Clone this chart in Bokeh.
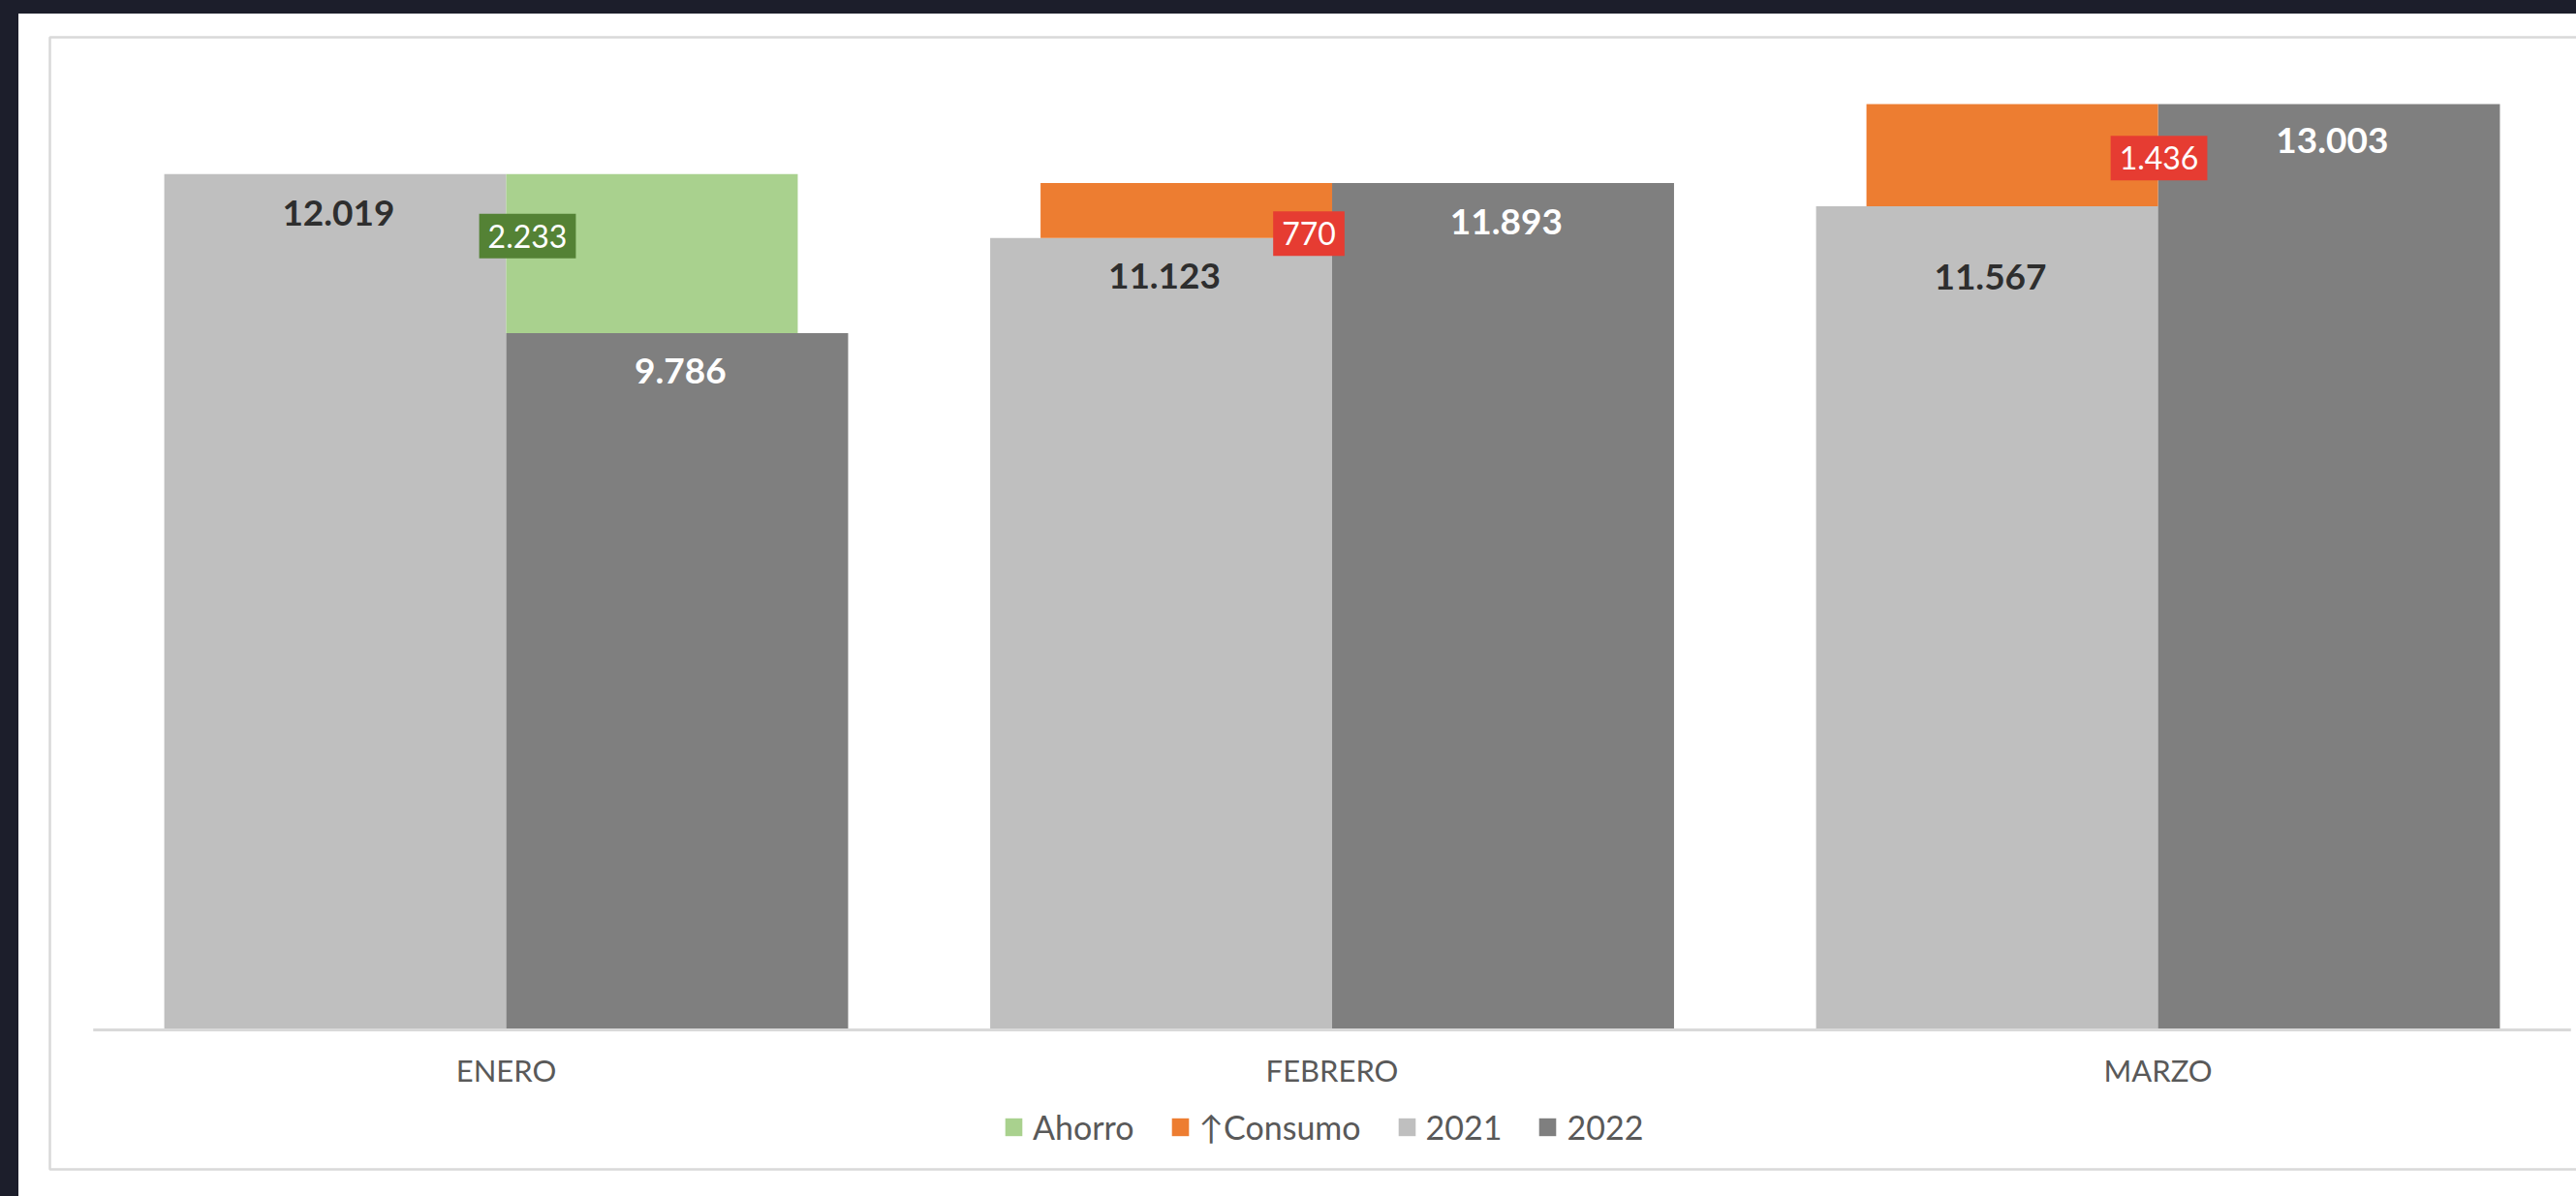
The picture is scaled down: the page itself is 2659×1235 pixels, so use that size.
from bokeh.plotting import figure
from bokeh.models import Range1d, ColumnDataSource, Legend, LegendItem, GlobalInlineStyleSheet
from bokeh.transform import dodge
from bokeh.core.properties import value
from bokeh.embed import file_html
from bokeh.resources import INLINE

# ---------------- data ----------------
months = ["ENERO", "FEBRERO", "MARZO"]
v2021 = [12019, 11123, 11567]
v2022 = [9786, 11893, 13003]
ahorro = [2233, 0, 0]
consumo = [0, 770, 1436]
legend_labels = ["Ahorro", "\u2191Consumo", "2021", "2022"]

# ---------------- styles ----------------
FONT = "Lato"
C_AHORRO = "#A9D18E"
C_CONSUMO = "#ED7D31"
C_2021 = "#BFBFBF"
C_2022 = "#7F7F7F"
C_BOX_GREEN = "#548235"
C_BOX_RED = "#E63C32"
C_TEXT = "#595959"
C_BORDER = "#D9D9D9"
C_DARK = "#1C1E2B"

BAR_W = 0.414      # width of 2021 / 2022 bars (category units)
DELTA_W = 0.353    # width of Ahorro / Consumo bars
HALF = BAR_W / 2
DHALF = DELTA_W / 2

# label offsets (screen px)
off21 = [40, 39, 73]
off22 = [39, 40, 38]
box_dx = [22, -24, 1]
box_dy = [-18, 24, 3]


def fmt(v):
    return f"{v:,}".replace(",", ".")


n = len(months)
xc = [i + 0.5 for i in range(n)]

page_css = GlobalInlineStyleSheet(css=(
    "html, body { margin: 0; padding: 0; background-color: white; overflow: hidden; }"
    "body { border-top: 14px solid %s; border-left: 19px solid %s; }" % (C_DARK, C_DARK)
))

# the chart panel is cropped on the right side in the original picture
p = figure(width=2655, height=1221, output_backend="svg", toolbar_location=None,
           x_range=Range1d(-0.0525, 3.0243), y_range=Range1d(-1958, 13940),
           x_axis_location=None, y_axis_location=None,
           min_border_left=32, min_border_right=0, min_border_top=24, min_border_bottom=28)
p.stylesheets = [page_css]
p.grid.visible = False
p.outline_line_color = C_BORDER
p.outline_line_width = 2.5
p.background_fill_color = "white"
p.border_fill_color = "white"

src = ColumnDataSource(dict(
    x=xc, m=months, v21=v2021, v22=v2022,
    l21=[fmt(v) for v in v2021], l22=[fmt(v) for v in v2022],
    o21=off21, o22=off22,
))

r21 = p.vbar(x=dodge("x", -HALF, range=p.x_range), top="v21", bottom=0, width=BAR_W,
             source=src, fill_color=C_2021, line_color=None)
r22 = p.vbar(x=dodge("x", HALF, range=p.x_range), top="v22", bottom=0, width=BAR_W,
             source=src, fill_color=C_2022, line_color=None)

# Ahorro segments (2022 below 2021)
ah_idx = [i for i in range(n) if ahorro[i] > 0]
src_ah = ColumnDataSource(dict(
    x=[xc[i] for i in ah_idx],
    bottom=[v2022[i] for i in ah_idx],
    top=[v2022[i] + ahorro[i] for i in ah_idx],
))
r_ah = p.vbar(x=dodge("x", DHALF, range=p.x_range), top="top", bottom="bottom", width=DELTA_W,
              source=src_ah, fill_color=C_AHORRO, line_color=None)

# Consumo segments (2022 above 2021)
co_idx = [i for i in range(n) if consumo[i] > 0]
src_co = ColumnDataSource(dict(
    x=[xc[i] for i in co_idx],
    bottom=[v2021[i] for i in co_idx],
    top=[v2021[i] + consumo[i] for i in co_idx],
))
r_co = p.vbar(x=dodge("x", -DHALF, range=p.x_range), top="top", bottom="bottom", width=DELTA_W,
              source=src_co, fill_color=C_CONSUMO, line_color=None)

# baseline (category axis line)
p.segment(x0=[0], y0=[0], x1=[n], y1=[0], line_color=C_BORDER, line_width=3)

# value labels
p.text(x=dodge("x", -HALF + 0.004, range=p.x_range), y="v21", text="l21", y_offset="o21",
       source=src, text_align="center", text_baseline="middle",
       text_font=value(FONT), text_font_style="bold", text_font_size="37px", text_color="#2E2E2E")
p.text(x=dodge("x", HALF + 0.004, range=p.x_range), y="v22", text="l22", y_offset="o22",
       source=src, text_align="center", text_baseline="middle",
       text_font=value(FONT), text_font_style="bold", text_font_size="37px", text_color="white")

# difference labels in coloured boxes
box_rows = []
for i in range(n):
    if ahorro[i] > 0:
        box_rows.append((i, (v2022[i] + v2021[i]) / 2, fmt(ahorro[i]), C_BOX_GREEN))
    elif consumo[i] > 0:
        box_rows.append((i, (v2021[i] + v2022[i]) / 2, fmt(consumo[i]), C_BOX_RED))
src_box = ColumnDataSource(dict(
    x=[xc[r[0]] for r in box_rows],
    y=[r[1] for r in box_rows],
    t=[r[2] for r in box_rows],
    bg=[r[3] for r in box_rows],
    dx=[box_dx[r[0]] for r in box_rows],
    dy=[box_dy[r[0]] for r in box_rows],
))
p.text(x="x", y="y", text="t", x_offset="dx", y_offset="dy", source=src_box,
       text_align="center", text_baseline="middle",
       text_font=value(FONT), text_font_size="32px", text_color="white",
       background_fill_color="bg", padding=dict(left=9, right=9, top=11, bottom=11))

# category labels
p.text(x="x", y=0, text="m", y_offset=41, source=src,
       text_align="center", text_baseline="middle",
       text_font=value(FONT), text_font_size="31px", text_color=C_TEXT)

legend = Legend(items=[
    LegendItem(label=legend_labels[0], renderers=[r_ah]),
    LegendItem(label=legend_labels[1], renderers=[r_co]),
    LegendItem(label=legend_labels[2], renderers=[r21]),
    LegendItem(label=legend_labels[3], renderers=[r22]),
], orientation="horizontal", location=(984, 23))
legend.label_text_font = FONT
legend.label_text_font_size = "34px"
legend.label_text_color = C_TEXT
legend.glyph_width = 22
legend.glyph_height = 23
legend.label_standoff = 9
legend.spacing = 36
legend.padding = 0
legend.margin = 0
legend.border_line_color = None
legend.background_fill_alpha = 0
p.add_layout(legend, "center")

open("out.html", "w").write(file_html(p, INLINE))
